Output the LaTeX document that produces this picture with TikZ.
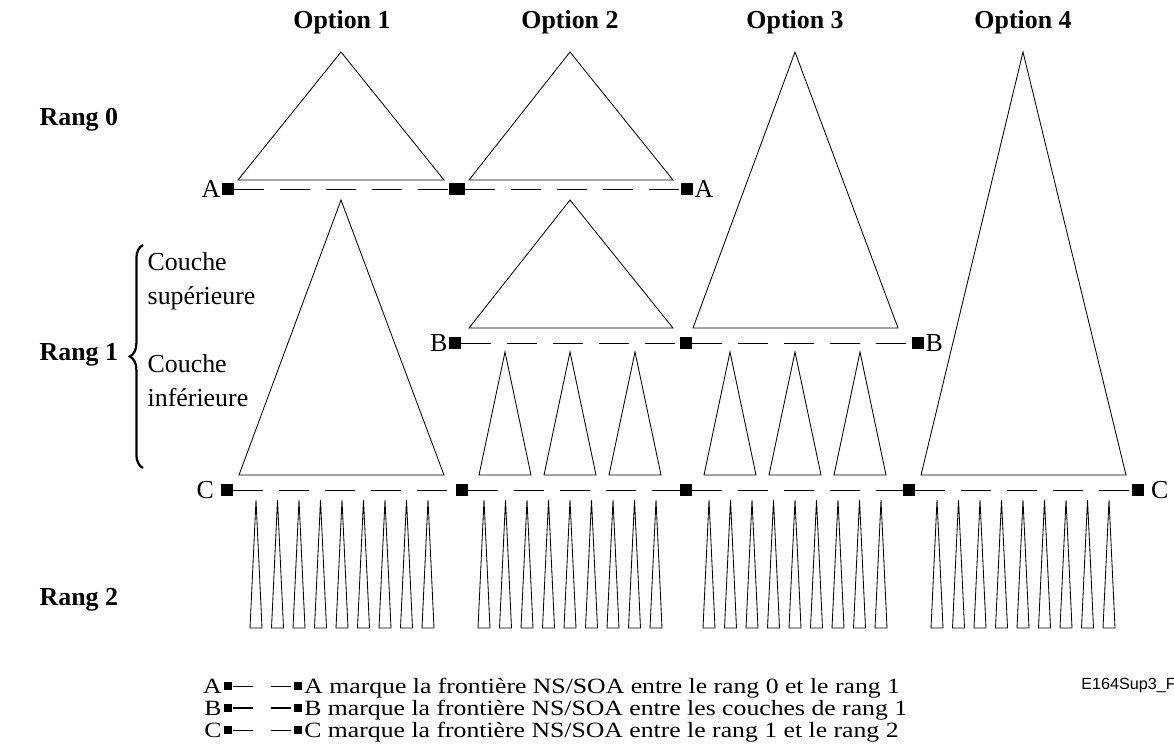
\documentclass[tikz,border=0pt]{standalone}
\usepackage{fontspec}
\setmainfont{Liberation Serif}
\newfontfamily\figsans{Liberation Sans}
\newfontfamily\legserif[FakeStretch=1.18]{Liberation Serif}
\usetikzlibrary{decorations.pathreplacing}

\begin{document}
\begin{tikzpicture}[x=0.025cm,y=-0.025cm,
  hdr/.style={font=\fontsize{18.4}{22}\selectfont\bfseries,inner sep=1pt},
  txt/.style={font=\fontsize{18.4}{24}\selectfont,inner sep=1pt},
  leg/.style={font=\legserif\fontsize{15.5}{18}\selectfont,inner sep=1pt,yshift=-5pt},
  sq/.style={fill=black,inner sep=0pt,minimum size=0.28cm},
  lsq/.style={fill=black,inner sep=0pt,minimum size=0.22cm},
  tri/.style={line width=0.6pt,line join=miter},
  frontier/.style={line width=0.6pt,dash pattern=on 0.75cm off 0.4cm},
  legline/.style={line width=0.6pt,dash pattern=on 0.5cm off 0.45cm}]
\useasboundingbox (0,0) rectangle (1174,754);
% column and row titles
\foreach \x/\n in {342/1,570/2,795/3,1023/4}
  \node[hdr] (opt\n) at (\x,22) {Option \n};
\node[hdr,anchor=west] (rang0) at (38,120) {Rang 0};
\node[hdr,anchor=west] (rang1) at (38,355) {Rang 1};
\node[hdr,anchor=west] (rang2) at (38,600) {Rang 2};
\draw[decorate,decoration={brace,amplitude=0.33cm},line width=1.6pt] (143,468) -- (143,245);
\node[txt,anchor=west,align=left] (csup) at (146,281) {Couche\\supérieure};
\node[txt,anchor=west,align=left] (cinf) at (146,381) {Couche\\inférieure};
% large trees
\draw[tri] (341,52) -- (238,180) -- (444,180) -- cycle;
\draw[tri] (570,52) -- (469,180) -- (673,180) -- cycle;
\draw[tri] (795,52) -- (693,328) -- (898,328) -- cycle;
\draw[tri] (1023,52) -- (921,475) -- (1126,475) -- cycle;
\draw[tri] (341,200) -- (239,475) -- (444,475) -- cycle;
\draw[tri] (570,200) -- (469,328) -- (673,328) -- cycle;
% lower layer of rang 1
\foreach \x in {505,570,635,730,795,860}
  \draw[tri] (\x,352) -- (\x-26,475) -- (\x+26,475) -- cycle;
% rang 2
\foreach \c in {342,570,795,1023}
  \foreach \i in {-4,...,4}
    \draw[tri] (\c+21.5*\i,500) -- (\c+21.5*\i-6,628) -- (\c+21.5*\i+6,628) -- cycle;
% frontier A
\node[sq] (a1) at (228,189) {};
\node[sq,minimum width=0.38cm] (a2) at (457,189) {};
\node[sq] (a3) at (687,189) {};
\node[txt,anchor=east] (la1) at (a1.west) {A};
\node[txt,anchor=west] (la3) at (a3.east) {A};
\draw[frontier] (a1) -- (a2);
\draw[frontier] (a2) -- (a3);
% frontier B
\node[sq] (b1) at (455,343) {};
\node[sq] (b2) at (686,343) {};
\node[sq] (b3) at (918,343) {};
\node[txt,anchor=east] (lb1) at (b1.west) {B};
\node[txt,anchor=west] (lb3) at (b3.east) {B};
\draw[frontier] (b1) -- (b2);
\draw[frontier] (b2) -- (b3);
% frontier C
\foreach \x [count=\k] in {227,462,686,909,1138}
  \node[sq] (c\k) at (\x,490) {};
\node[txt,anchor=east,xshift=-4pt] (lc1) at (c1.west) {C};
\node[txt,anchor=west,xshift=4pt] (lc5) at (c5.east) {C};
\foreach \k [evaluate=\k as \j using int(\k+1)] in {1,...,4}
  \draw[frontier] (c\k) -- (c\j);
% legend
\foreach \l/\y/\w/\t in {A/686/0.6pt/entre le rang 0 et le rang 1,
    B/708/1.4pt/entre les couches de rang 1,
    C/730/0.6pt/entre le rang 1 et le rang 2}{
  \node[lsq] (\l g1) at (228,\y) {};
  \node[lsq] (\l g2) at (298,\y) {};
  \node[leg,anchor=base east] (\l gl) at (\l g1.west) {\l};
  \node[leg,anchor=base west] (\l gt) at (\l g2.east) {\l{} marque la frontière NS/SOA \t};
  \draw[legline,line width=\w] (\l g1) -- (\l g2);
}
\node[font=\figsans\fontsize{11.5}{14}\selectfont,anchor=west,inner sep=0pt] (fig) at (1081,686) {E164Sup3\_F};
\end{tikzpicture}
\end{document}
